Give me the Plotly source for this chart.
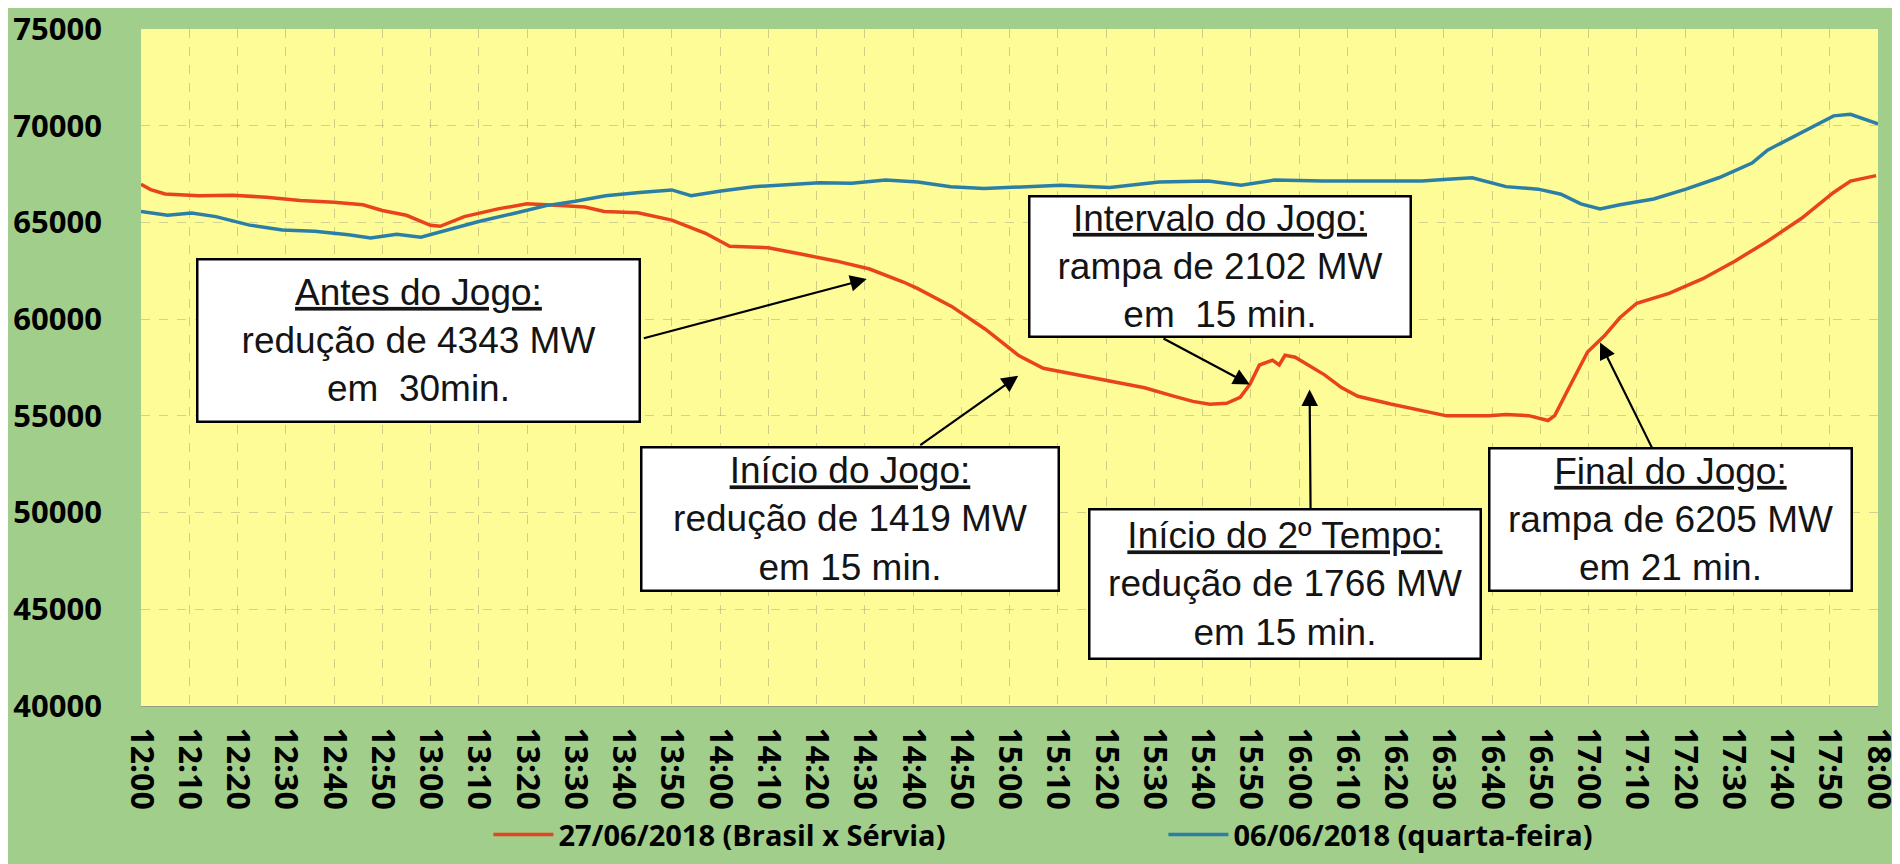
import plotly.graph_objects as go

# minutos a partir das 12:00
t_jogo = [0, 2, 5, 12, 19, 26, 33, 40, 46, 50, 55, 58, 60, 62, 64, 67, 74, 80, 87, 92,
          96, 103, 110, 117, 122, 130, 137, 144, 151, 158, 161, 168, 175, 182, 187, 194,
          201, 208, 214, 218, 221.5, 225, 227.8, 229.8, 231.8, 234.5, 235.9, 237.1, 239.2,
          242, 245.3, 248.8, 252.2, 259, 265.7, 270.6, 275.9, 279.4, 282.9, 287.6, 291.6,
          293, 296.3, 299.8, 303.3, 306.5, 310, 316.7, 323.7, 330.4, 337.1, 344.1, 350.8,
          354.3, 359.6]
carga_jogo = [66970, 66700, 66470, 66380, 66410, 66300, 66130, 66040, 65910, 65620, 65370,
              65050, 64850, 64800, 65000, 65300, 65700, 65960, 65870, 65800, 65570, 65500,
              65120, 64440, 63770, 63690, 63350, 63010, 62590, 61920, 61580, 60660, 59480,
              58100, 57460, 57120, 56780, 56450, 56020, 55750, 55600, 55650, 55960, 56620,
              57630, 57880, 57630, 58130, 58030, 57630, 57120, 56460, 56010, 55610, 55250,
              55000, 55010, 55000, 55070, 55010, 54760, 55010, 56620, 58300, 59140, 60070,
              60820, 61330, 62090, 63010, 64030, 65200, 66550, 67140, 67420]

t_ref = [0, 5.5, 10.5, 15.5, 22.5, 29.3, 36, 43, 47.6, 53, 58, 63.5, 70, 77, 84, 90,
         96.3, 103.3, 110, 114, 120.2, 127, 133.9, 140.6, 147.3, 154.3, 161, 167.8, 174.7,
         181, 190.6, 200.8, 211, 221.2, 228, 234.9, 245, 255.3, 265.5, 270, 275.9, 282.9,
         289.6, 294.3, 298.4, 302.4, 306.5, 313.5, 320.2, 327, 333.9, 337.1, 344.1, 350.8,
         354.3, 360]
carga_ref = [65560, 65370, 65490, 65300, 64860, 64610, 64540, 64360, 64190, 64390, 64240,
             64610, 65050, 65450, 65870, 66100, 66380, 66550, 66680, 66380, 66630, 66850,
             66970, 67050, 67020, 67190, 67090, 66850, 66750, 66800, 66920, 66800, 67090,
             67140, 66920, 67190, 67140, 67140, 67140, 67220, 67310, 66850, 66720, 66460,
             65960, 65700, 65910, 66210, 66720, 67310, 68070, 68740, 69660, 70510, 70590,
             70090]

nomes = ["27/06/2018 (Brasil x Sérvia)", "06/06/2018 (quarta-feira)"]
cores = ["#e8431c", "#2b7fa6"]

ticks_min = list(range(0, 361, 10))
ticks_txt = ["12:00", "12:10", "12:20", "12:30", "12:40", "12:50",
             "13:00", "13:10", "13:20", "13:30", "13:40", "13:50",
             "14:00", "14:10", "14:20", "14:30", "14:40", "14:50",
             "15:00", "15:10", "15:20", "15:30", "15:40", "15:50",
             "16:00", "16:10", "16:20", "16:30", "16:40", "16:50",
             "17:00", "17:10", "17:20", "17:30", "17:40", "17:50", "18:00"]

# caixas: texto, centro (min, MW), largura, altura em px
caixas = [
    ("<u>Antes do Jogo:</u><br>redução de 4343 MW<br>em\u00a0 30min.", 57.6, 58890, 444, 164),
    ("<u>Início do Jogo:</u><br>redução de 1419 MW<br>em 15 min.", 147.0, 49670, 419, 145),
    ("<u>Intervalo do Jogo:</u><br>rampa de 2102 MW<br>em\u00a0 15 min.", 223.6, 62730, 383, 142),
    ("<u>Início do 2º Tempo:</u><br>redução de 1766 MW<br>em 15 min.", 237.2, 46290, 393, 151),
    ("<u>Final do Jogo:</u><br>rampa de 6205 MW<br>em 21 min.", 316.9, 49650, 364, 144),
]
# setas: (cauda min, cauda MW, ponta min, ponta MW)
setas = [
    (103.9, 58990, 150.4, 62070),
    (161.2, 53430, 181.8, 57070),
    (211.6, 59040, 229.8, 56620),
    (242.4, 50100, 242.2, 56360),
    (313.3, 53280, 302.4, 58790),
]

fig = go.Figure()
fig.add_trace(go.Scatter(x=t_jogo, y=carga_jogo, mode="lines", name=nomes[0],
                         line=dict(color=cores[0], width=3.5)))
fig.add_trace(go.Scatter(x=t_ref, y=carga_ref, mode="lines", name=nomes[1],
                         line=dict(color=cores[1], width=3.5)))

anns = []
for cx, cy, px, py in setas:
    anns.append(dict(x=px, y=py, ax=cx, ay=cy, xref="x", yref="y", axref="x", ayref="y",
                     text="", showarrow=True, arrowhead=2, arrowsize=1.5, arrowwidth=2.2,
                     arrowcolor="black"))
for txt, x, y, w, h in caixas:
    anns.append(dict(x=x, y=y, xref="x", yref="y", text=txt, showarrow=False,
                     width=w - 12, height=h - 12, borderpad=4, bordercolor="black",
                     borderwidth=2.5, bgcolor="white", align="center", valign="middle",
                     font=dict(family="Liberation Sans, Arial", size=37, color="#141414")))

fig.update_layout(
    width=1900, height=864,
    margin=dict(l=133, r=30, t=21, b=156),
    paper_bgcolor="#a2ce8b",
    plot_bgcolor="#fdfc96",
    annotations=anns,
    showlegend=True,
    legend=dict(orientation="h", x=0.2, xanchor="left", y=-0.19, yanchor="middle",
                bgcolor="rgba(0,0,0,0)", entrywidth=600, itemwidth=60,
                font=dict(family="Open Sans", size=29, color="black", weight="bold")),
)
fig.update_xaxes(range=[0, 360], tickvals=ticks_min, ticktext=ticks_txt, tickangle=90,
                 showgrid=True, gridcolor="rgba(120,120,100,0.35)", griddash="dash",
                 gridwidth=1, zeroline=False, showline=True, linecolor="#9a9a8a",
                 tickfont=dict(family="Open Sans", size=32, color="black", weight="bold"),
                 ticks="", ticklabelstandoff=14, ticklabeloverflow="allow",
                 automargin=False)
fig.update_yaxes(range=[40000, 75000], dtick=5000, tickformat="d",
                 showgrid=True, gridcolor="rgba(170,170,140,0.5)", griddash="dash",
                 gridwidth=1, zeroline=False,
                 tickfont=dict(family="Open Sans", size=31, color="black", weight="bold"),
                 ticks="", ticklabelstandoff=38, ticklabeloverflow="allow",
                 automargin=False)

fig.write_html("out.html")
